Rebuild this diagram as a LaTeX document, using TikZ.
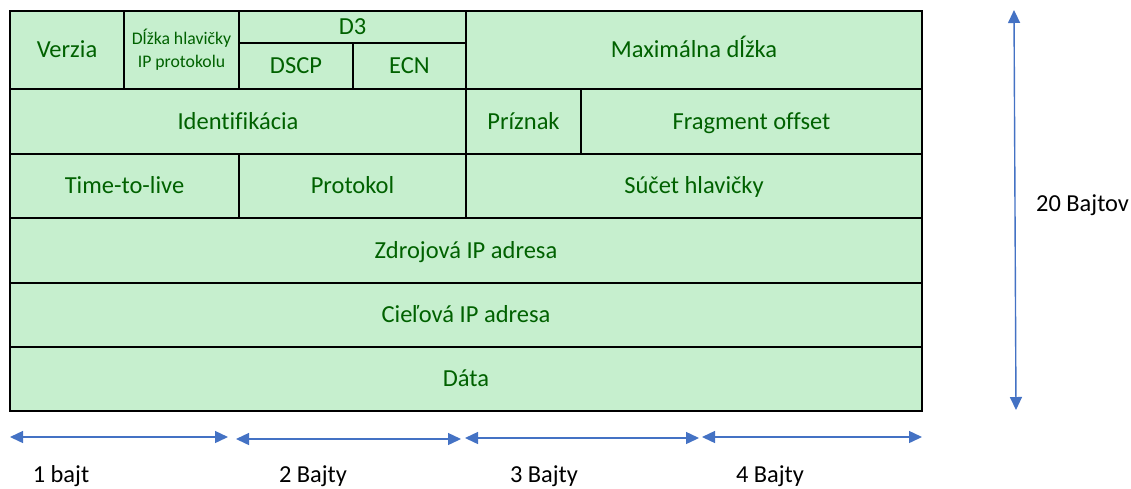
\documentclass[tikz,border=0pt]{standalone}
\usepackage{fontspec}
\setmainfont[Ligatures=CommonOff]{Carlito}
\usetikzlibrary{arrows.meta}
\definecolor{cellfill}{HTML}{C6EFCE}
\definecolor{celltext}{HTML}{006100}
\definecolor{arrowblue}{HTML}{4472C4}
\tikzset{
    cellbox/.style={draw=black,line width=1.6pt,fill=cellfill},
    celltxt/.style={text=celltext,font=\fontsize{24.5}{29}\selectfont,inner sep=0pt,text height=0.7em,text depth=0.2em,yshift=-5pt},
    smalltxt/.style={text=celltext,font=\fontsize{17.7}{23}\selectfont,align=center,inner sep=0pt},
    bytearrow/.style={draw=arrowblue,line width=1.4pt,{Triangle[length=13pt,width=12pt]}-{Triangle[length=13pt,width=12pt]}},
    bytelabel/.style={text=black,font=\fontsize{24.4}{29}\selectfont,inner sep=0pt,text height=0.7em,text depth=0.2em,yshift=-5pt}
}
\begin{document}
\begin{tikzpicture}[x=1pt,y=-1pt]
    \useasboundingbox (0,0) rectangle (1131,488);
    % bunky hlavicky
    \foreach \xa/\ya/\xb/\yb/\nm/\txt in {
        10/11/124/89/verzia/Verzia,
        239/11/466/43/dtri/D3,
        239/43/353/89/dscp/DSCP,
        353/43/466/89/ecn/ECN,
        466/11/922/89/maxdlzka/Maximálna dĺžka,
        10/89/466/154/ident/Identifikácia,
        466/89/581/154/priznak/Príznak,
        581/89/922/154/fragoff/Fragment offset,
        10/154/239/218/ttl/Time-to-live,
        239/154/466/218/protokol/Protokol,
        466/154/922/218/sucet/Súčet hlavičky,
        10/218/922/283/zdroj/Zdrojová IP adresa,
        10/283/922/347/ciel/Cieľová IP adresa,
        10/347/922/411/data/Dáta}
        \draw[cellbox] (\xa,\ya) rectangle node[celltxt] (\nm) {\txt} (\xb,\yb);
    \draw[cellbox] (124,11) rectangle node[smalltxt] (dlzka) {Dĺžka hlavičky\\IP protokolu} (239,89); % mensie pismo
    % sipky pod tabulkou
    \foreach \i/\xa/\xb/\yy/\xt/\txt in {1/10/228/437/61/1 bajt, 2/236/461/439/313/2 Bajty, 3/465/699/438/544/3 Bajty, 4/702/922/437/770/4 Bajty}{
        \coordinate (b\i l) at (\xa,\yy);
        \coordinate (b\i r) at (\xb,\yy);
        \draw[bytearrow] (b\i l) -- (b\i r);
        \node[bytelabel] (lab\i) at (\xt,475) {\txt};
    }
    % zvisla sipka
    \coordinate (vtop) at (1014,10);
    \coordinate (vbot) at (1016,410);
    \draw[bytearrow] (vtop) -- (vbot);
    \node[bytelabel,anchor=west] (lab20) at (1036,204) {20 Bajtov};
\end{tikzpicture}
\end{document}
